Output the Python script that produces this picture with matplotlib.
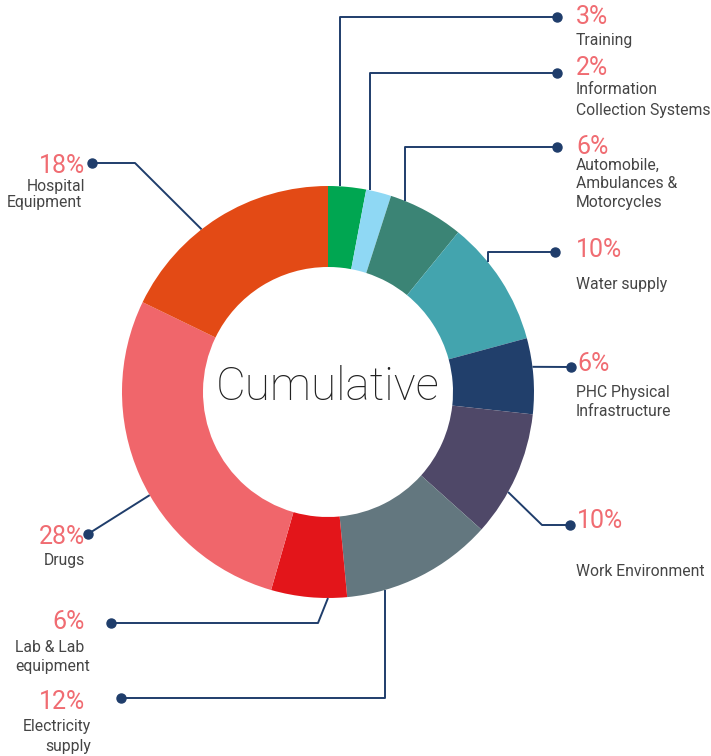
import math

import matplotlib
matplotlib.use('Agg')
import matplotlib.pyplot as plt

W, H = 711, 756

categories = ['Training', 'Information\nCollection Systems', 'Automobile,\nAmbulances &\nMotorcycles',
              'Water supply', 'PHC Physical\nInfrastructure', 'Work Environment',
              'Electricity\nsupply', 'Lab & Lab\nequipment', 'Drugs', 'Hospital\nEquipment']
shares = [3, 2, 6, 10, 6, 10, 12, 6, 28, 18]
colors = ['#00a651', '#8fd8f4', '#3b8475', '#43a4ae', '#213f6b',
          '#4f4868', '#63777f', '#e3151a', '#f0666b', '#e34a15']

LINE = '#1f3d6b'
PCT = '#f06c72'
TXT = '#454545'

# donut geometry (pixel units, y measured downward)
cx, cy = 328, 392
r_out, r_in = 206, 125

# where the leader leaves each wedge (0..1 across the wedge), the dot, and the elbow
# kind: 'v' = vertical then horizontal, 'd' = diagonal to elbow then horizontal, 's' = straight
leaders = [
    (0.3, (557, 17), 'v', None),
    (0.15, (557, 73), 'v', None),
    (0.2, (557, 147), 'v', None),
    (0.33, (555, 252), 'v', None),
    (0.38, (571, 367), 's', None),
    (0.64, (570, 525), 'd', 542),
    (0.75, (121, 698), 'v', None),
    (0.25, (111, 623), 'd', 318),
    (0.44, (88, 534), 's', None),
    (0.41, (92, 163), 'd', 135),
]

# text layout: (x, align, y of percent, [(y, x, align) per name line])
labels = [
    (576, 'left', 17, [(41, 576, 'left')]),
    (576, 'left', 68, [(90, 576, 'left'), (110, 576, 'left')]),
    (576, 'left', 147, [(165, 576, 'left'), (184, 576, 'left'), (203, 576, 'left')]),
    (576, 'left', 250, [(284, 576, 'left')]),
    (577, 'left', 364, [(392, 576, 'left'), (412, 576, 'left')]),
    (577, 'left', 521, [(571, 576, 'left')]),
    (85, 'right', 702, [(726, 91, 'right'), (746, 91, 'right')]),
    (85, 'right', 622, [(647, 15, 'left'), (667, 15, 'left')]),
    (85, 'right', 537, [(560, 85, 'right')]),
    (85, 'right', 166, [(187, 85, 'right'), (202, 7, 'left')]),
]


def Y(py):
    return H - py


fig = plt.figure(figsize=(W / 100, H / 100), dpi=100)
ax = fig.add_axes([0, 0, 1, 1])

ax.pie(shares, colors=colors, startangle=90, counterclock=False,
       center=(cx, Y(cy)), radius=r_out, frame=True,
       wedgeprops=dict(width=r_out - r_in, edgecolor='none'))
ax.set_xlim(0, W)
ax.set_ylim(0, H)
ax.axis('off')

total = float(sum(shares))
cum = 0
for i, val in enumerate(shares):
    frac, dot, kind, elbow_x = leaders[i]
    t = math.radians(360 * (cum + frac * val) / total)
    cum += val
    ax_x = cx + r_out * math.sin(t)
    ax_y = cy - r_out * math.cos(t)
    if kind == 'v':
        xs = [ax_x, ax_x, dot[0]]
        ys = [ax_y, dot[1], dot[1]]
    elif kind == 'd':
        xs = [ax_x, elbow_x, dot[0]]
        ys = [ax_y, dot[1], dot[1]]
    else:
        xs = [ax_x, dot[0]]
        ys = [ax_y, dot[1]]
    ax.plot(xs, [Y(v) for v in ys], color=LINE, lw=1.4, solid_capstyle='butt', zorder=3)
    ax.plot(dot[0], Y(dot[1]), 'o', color=LINE, ms=6.5, zorder=4)

    px, pal, py, names = labels[i]
    ax.text(px, Y(py), '%d%%' % val, color=PCT, fontsize=18, fontfamily='Roboto',
            fontweight='normal', ha=pal, va='center')
    for (ly, lx, lal), line in zip(names, categories[i].split('\n')):
        ax.text(lx, Y(ly), line, color=TXT, fontsize=11.3, fontfamily='Roboto',
                ha=lal, va='center')

ax.text(cx, Y(cy - 5), 'Cumulative', color='#222222', fontsize=33, fontfamily='Roboto',
        fontweight='light', ha='center', va='center')

fig.savefig('out.png', dpi=100, facecolor='white')
